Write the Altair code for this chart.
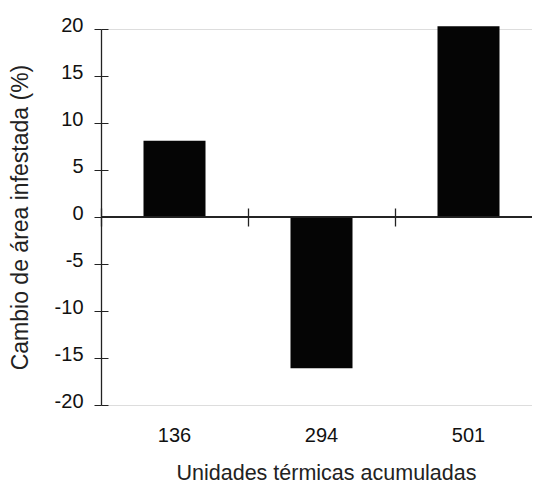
import altair as alt
import pandas as pd

categories = ["136", "294", "501"]
values = [8.1, -16.1, 20.3]
y_ticks = [-20, -15, -10, -5, 0, 5, 10, 15, 20]

df = pd.DataFrame({"cat": categories, "val": values})

W = 431
H = 376
FONT = "Liberation Sans"
INK = "#222222"

xscale = alt.Scale(domain=categories, paddingInner=0, paddingOuter=0, range=[0, 441])
yscale = alt.Scale(domain=[-20, 20], nice=False, zero=False)

base = alt.Chart(df)

bars = base.mark_bar(color="#050505", size=62).encode(
    x=alt.X("cat:N", scale=xscale, sort=categories,
            axis=alt.Axis(orient="bottom", title="Unidades térmicas acumuladas",
                          ticks=False, tickSize=0, domain=False, labelAngle=0,
                          labelPadding=20, labelFontSize=20, labelFont=FONT,
                          labelColor="#111111", titleFont=FONT, titleFontSize=21.5,
                          titleFontWeight="normal", titleColor=INK,
                          titleX=225, titleY=74, titleBaseline="alphabetic",
                          titleAnchor="start", titleAlign="center")),
    y=alt.Y("val:Q", scale=yscale,
            axis=alt.Axis(orient="left", title="Cambio de área infestada (%)",
                          values=y_ticks, labelExpr="'' + datum.value",
                          tickSize=7, tickColor=INK, domainColor=INK,
                          domainWidth=1.3, grid=False, labelPadding=11,
                          labelFontSize=20, labelFont=FONT, labelColor="#111111",
                          labelOffset=-4,
                          titleFont=FONT, titleFontSize=23, titleFontWeight="normal",
                          titleColor=INK, titleX=-81, titleBaseline="middle")),
)

zero = base.mark_rule(color=INK, strokeWidth=1.3).encode(
    y=alt.datum(0, scale=yscale, axis=None)
)

ticks_down = base.mark_bar(opacity=0).encode(
    x=alt.X("cat:N", scale=xscale, sort=categories,
            axis=alt.Axis(orient="bottom", offset=-188, labels=False, domain=False,
                          title=None, tickSize=9, tickColor=INK, tickWidth=1.3,
                          bandPosition=0)),
    y=alt.Y("val:Q", scale=yscale,
            axis=alt.Axis(orient="left", offset=-7, labels=False, domain=False,
                          title=None, tickSize=7, tickColor=INK,
                          values=y_ticks, grid=False)),
)

ticks_up = base.mark_bar(opacity=0).encode(
    x=alt.X("cat:N", scale=xscale, sort=categories,
            axis=alt.Axis(orient="top", offset=-188, labels=False, domain=False,
                          title=None, tickSize=9, tickColor=INK, tickWidth=1.3,
                          bandPosition=0)),
    y=alt.Y("val:Q", scale=yscale, axis=None),
)

chart = alt.layer(bars, zero, ticks_down, ticks_up).resolve_axis(
    x="independent", y="independent"
).properties(
    width=W, height=H,
    autosize=alt.AutoSizeParams(type="none"),
    padding={"left": 93, "top": 21, "right": 0, "bottom": 81},
).configure_view(stroke=None).configure(background="white")

chart.save("out.html", embed_options={"renderer": "svg", "actions": False})
